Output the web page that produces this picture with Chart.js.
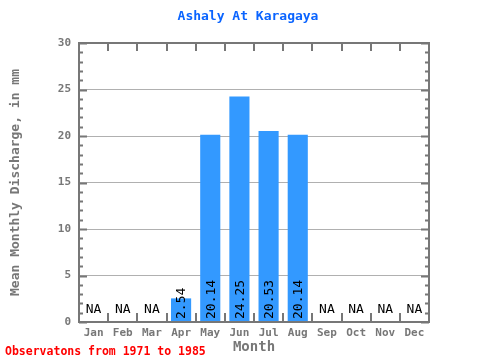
<!DOCTYPE html>
<html>
<head>
<meta charset="utf-8">
<script src="https://cdn.jsdelivr.net/npm/chart.js@4"></script>
<style>
  html, body { margin: 0; padding: 0; background: #fff; }
  #wrap { width: 480px; height: 360px; }
</style>
</head>
<body>
<div id="wrap"><canvas id="myChart" width="480" height="360"></canvas></div>
<script>
// chart data
var months = ['Jan', 'Feb', 'Mar', 'Apr', 'May', 'Jun', 'Jul', 'Aug', 'Sep', 'Oct', 'Nov', 'Dec'];
var discharge = [null, null, null, 2.54, 20.14, 24.25, 20.53, 20.14, null, null, null, null];
var yTicks = [0, 5, 10, 15, 20, 25, 30];
var chartTitle = 'Ashaly At Karagaya';
var footNote = 'Observatons from 1971 to 1985';

var mono = "'DejaVu Sans Mono', 'Liberation Mono', monospace";
var axisGrey = '#777777';

// draws title, frame, inward ticks, value labels and the footer note
var decorations = {
    id: 'decorations',
    afterDatasetsDraw: function (chart) {
        var ctx = chart.ctx;
        var area = chart.chartArea;
        var x = chart.scales.x;
        var y = chart.scales.y;
        var meta = chart.getDatasetMeta(0);
        var zero = y.getPixelForValue(0);

        ctx.save();
        // value labels
        ctx.fillStyle = '#000';
        ctx.font = '13px ' + mono;
        discharge.forEach(function (v, i) {
            var cx = x.getPixelForValue(i);
            if (v === null) {
                ctx.textAlign = 'center';
                ctx.textBaseline = 'middle';
                ctx.fillText('NA', cx, zero - 12);
            } else {
                ctx.save();
                ctx.translate(meta.data[i].x, zero - 3);
                ctx.rotate(-Math.PI / 2);
                ctx.textAlign = 'left';
                ctx.textBaseline = 'middle';
                ctx.fillText(v.toFixed(2), 0, 1);
                ctx.restore();
            }
        });

        // inward ticks
        ctx.strokeStyle = axisGrey;
        ctx.lineWidth = 2;
        ctx.beginPath();
        for (var t = 0; t <= 30; t++) {
            var py = Math.round(y.getPixelForValue(t)) + 0.5;
            var len = (t % 5 === 0) ? 8 : 4;
            ctx.moveTo(area.left, py);
            ctx.lineTo(area.left + len, py);
            ctx.moveTo(area.right, py);
            ctx.lineTo(area.right - len, py);
        }
        for (var i = 1; i < months.length; i++) {
            var px = Math.round((x.getPixelForValue(i - 1) + x.getPixelForValue(i)) / 2);
            ctx.moveTo(px, area.bottom);
            ctx.lineTo(px, area.bottom - 9);
            ctx.moveTo(px, area.top);
            ctx.lineTo(px, area.top + 8);
        }
        ctx.stroke();

        // frame
        ctx.lineWidth = 2;
        ctx.strokeRect(area.left, area.top, area.right - area.left, area.bottom - area.top);

        // title
        ctx.fillStyle = '#0a64ff';
        ctx.font = 'bold 13px ' + mono;
        ctx.textAlign = 'center';
        ctx.textBaseline = 'middle';
        ctx.fillText(chartTitle, (area.left + area.right) / 2 - 6, 17);

        // footer
        ctx.fillStyle = '#ff0000';
        ctx.font = 'bold 11.5px ' + mono;
        ctx.textAlign = 'left';
        ctx.fillText(footNote, 5, 352);
        ctx.restore();
    }
};

var ctx = document.getElementById('myChart').getContext('2d');
var myChart = new Chart(ctx, {
    type: 'bar',
    data: {
        labels: months,
        datasets: [{
            label: 'Mean Monthly Discharge',
            data: discharge,
            backgroundColor: '#3399ff',
            borderWidth: 0,
            barPercentage: 0.69,
            categoryPercentage: 1.0
        }]
    },
    options: {
        responsive: false,
        animation: false,
        layout: {
            padding: { left: 0, right: 51, top: 43, bottom: 0 }
        },
        plugins: {
            legend: { display: false },
            tooltip: { enabled: false },
            title: { display: false }
        },
        scales: {
            x: {
                grid: { display: false, drawTicks: false },
                border: { display: false },
                ticks: {
                    color: axisGrey,
                    font: { family: mono, size: 11, weight: 'bold' },
                    padding: 5,
                    maxRotation: 0,
                    autoSkip: false
                },
                title: {
                    display: true,
                    text: 'Month',
                    color: axisGrey,
                    font: { family: mono, size: 14, weight: 'bold' },
                    padding: { top: 0, bottom: 4.6 }
                },
                afterFit: function (scale) { scale.height = 38; }
            },
            y: {
                min: 0,
                max: 30,
                afterBuildTicks: function (scale) {
                    scale.ticks = yTicks.map(function (v) { return { value: v }; });
                },
                grid: {
                    color: function (c) {
                        return (c.tick.value === 0 || c.tick.value === 30) ? 'rgba(0,0,0,0)' : '#b0b0b0';
                    },
                    drawTicks: false
                },
                border: { display: false },
                ticks: {
                    color: axisGrey,
                    font: { family: mono, size: 11, weight: 'bold' },
                    padding: 8
                },
                title: {
                    display: true,
                    text: 'Mean Monthly Discharge, in mm',
                    color: axisGrey,
                    font: { family: mono, size: 13, weight: 'bold' },
                    padding: { top: 8, bottom: 0 }
                },
                afterFit: function (scale) { scale.width = 79; }
            }
        }
    },
    plugins: [decorations]
});
</script>
</body>
</html>
